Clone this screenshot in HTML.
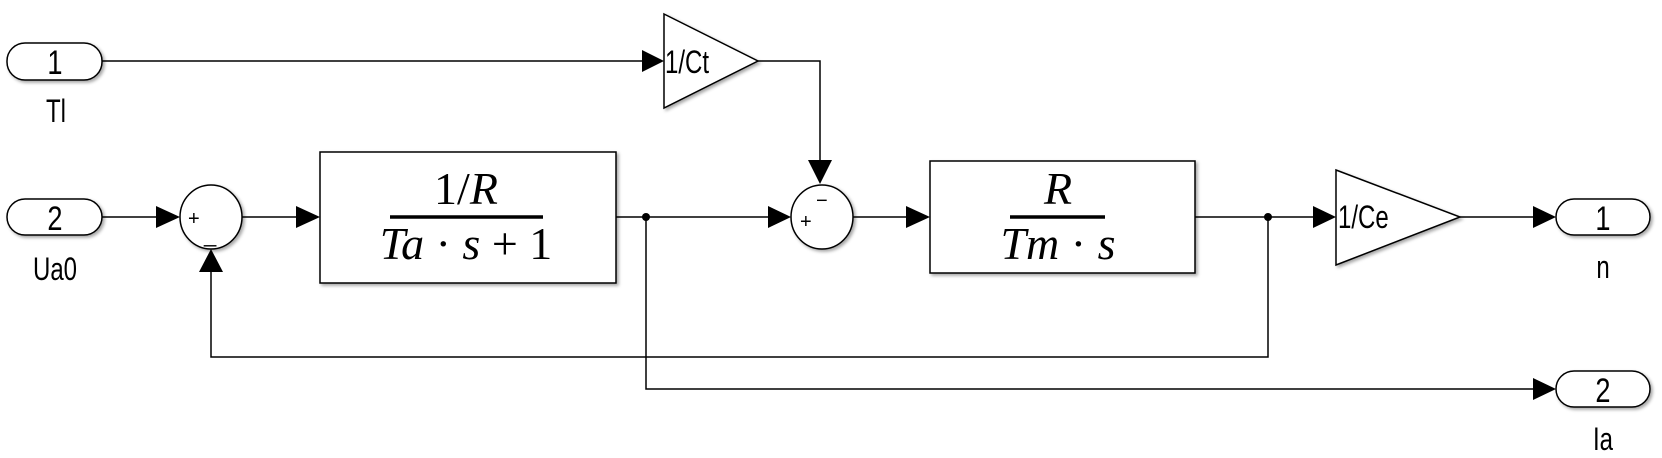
<!DOCTYPE html>
<html><head><meta charset="utf-8"><style>
html,body{margin:0;padding:0;background:#fff;}
svg{display:block}
text{font-family:"Liberation Sans",sans-serif;fill:#000}
.m{font-family:"Liberation Serif",serif;font-style:italic}
</style></head><body>
<svg width="1662" height="458" viewBox="0 0 1662 458" xmlns="http://www.w3.org/2000/svg">
<defs>
<filter id="sh" x="-10%" y="-10%" width="130%" height="130%"><feDropShadow dx="2" dy="2" stdDeviation="1.5" flood-color="#000" flood-opacity="0.35"/></filter>
</defs>
<g stroke="#000" stroke-width="1.5" fill="none">
<path d="M102 61 H652"/>
<path d="M758 61 H820 V160"/>
<path d="M102 217 H156"/>
<path d="M242 217 H306"/>
<path d="M616 217 H778"/>
<path d="M853 217 H916"/>
<path d="M1195 217 H1322"/>
<path d="M1460 217 H1542"/>
<path d="M1268 217 V357 H211 V264"/>
<path d="M646 217 V389 H1542"/>
</g>
<g fill="#000">
<polygon points="642,50 664,61 642,72"/>
<polygon points="808,160 832,160 820,184"/>
<polygon points="156,206 180,217 156,228"/>
<polygon points="296,206 320,217 296,228"/>
<polygon points="768,206 791,217 768,228"/>
<polygon points="906,206 930,217 906,228"/>
<polygon points="1313,206 1336,217 1313,228"/>
<polygon points="1533,206 1556,217 1533,228"/>
<polygon points="1533,378 1556,389 1533,400"/>
<polygon points="199,272 223,272 211,249"/>
<circle cx="646" cy="217" r="4"/>
<circle cx="1268" cy="217" r="4"/>
</g>
<g stroke="#000" stroke-width="1.5" fill="#fff" filter="url(#sh)">
<rect x="7" y="43" width="95" height="37" rx="18"/>
<rect x="7" y="199" width="95" height="36" rx="18"/>
<rect x="1556" y="199" width="94" height="36" rx="18"/>
<rect x="1556" y="371" width="94" height="36" rx="18"/>
<ellipse cx="211" cy="217" rx="31" ry="32"/>
<ellipse cx="822" cy="217" rx="31" ry="32"/>
<rect x="320" y="152" width="296" height="131"/>
<rect x="930" y="161" width="265" height="112"/>
<polygon points="664,14 758,61 664,108"/>
<polygon points="1336,170 1460,217 1336,265"/>
</g>
<g font-size="34" text-anchor="middle">
<text transform="translate(55,74) scale(0.8,1)">1</text>
<text transform="translate(55,230) scale(0.8,1)">2</text>
<text transform="translate(1603,230) scale(0.8,1)">1</text>
<text transform="translate(1603,402) scale(0.8,1)">2</text>
</g>
<g font-size="32" text-anchor="middle">
<text transform="translate(56,122) scale(0.75,1)">Tl</text>
<text transform="translate(55,280) scale(0.75,1)">Ua0</text>
<text transform="translate(1603,278) scale(0.75,1)">n</text>
<text transform="translate(1603,450) scale(0.75,1)">Ia</text>
</g>
<text transform="translate(665,73) scale(0.75,1)" font-size="32">1/Ct</text>
<text transform="translate(1338,228) scale(0.75,1)" font-size="32">1/Ce</text>
<text x="188" y="225" font-size="20">+</text>
<text x="204" y="242" font-size="22">_</text>
<text x="800" y="228" font-size="20">+</text>
<text x="816" y="207" font-size="20">−</text>
<line x1="390" y1="217" x2="543" y2="217" stroke="#000" stroke-width="3.5"/>
<text x="466" y="204" font-size="46" text-anchor="middle" class="m"><tspan font-style="normal">1/</tspan>R</text>
<text x="466" y="259" font-size="46" text-anchor="middle" class="m">Ta <tspan font-style="normal">·</tspan> s <tspan font-style="normal">+ 1</tspan></text>
<line x1="1010" y1="217" x2="1105" y2="217" stroke="#000" stroke-width="3.5"/>
<text x="1058" y="204" font-size="46" text-anchor="middle" class="m">R</text>
<text x="1058" y="259" font-size="46" text-anchor="middle" class="m">Tm <tspan font-style="normal">·</tspan> s</text>
</svg>
</body></html>
